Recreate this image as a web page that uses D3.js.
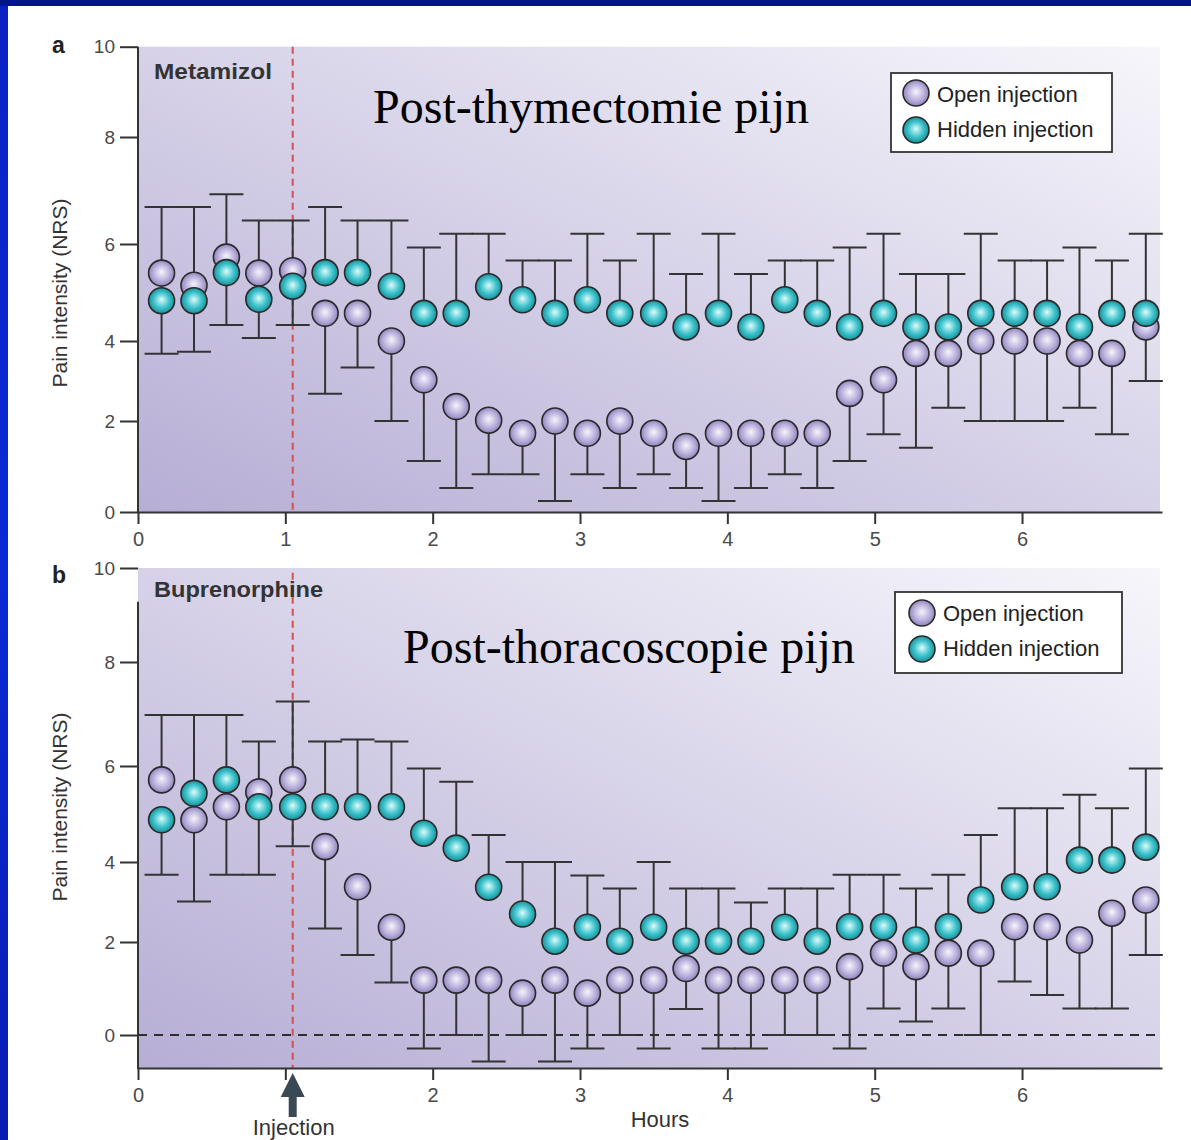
<!DOCTYPE html>
<html>
<head>
<meta charset="utf-8">
<script src="https://cdn.jsdelivr.net/npm/d3@7"></script>
<style>
    html, body { margin: 0; padding: 0; background: #fff; }
    svg { display: block; }
    .axis .tick text { font-family: "Liberation Sans", Arial, sans-serif; fill: #4a4a4a; }
    .axis path, .axis line { stroke: #333; stroke-width: 2; }
</style>
</head>
<body>
<div id="chart"></div>
<script>
// time of each measurement, hours
var hours = [0.16, 0.38, 0.60, 0.82, 1.05, 1.27, 1.49, 1.72, 1.94, 2.16, 2.38, 2.61, 2.83, 3.05, 3.27, 3.50,
    3.72, 3.94, 4.16, 4.39, 4.61, 4.83, 5.06, 5.28, 5.50, 5.72, 5.95, 6.17, 6.39, 6.61, 6.84];
var xTicks = [0, 1, 2, 3, 4, 5, 6];
var yTicks = [0, 2, 4, 6, 8, 10];
var injectionHour = 1.05;
var seriesNames = ['Open injection', 'Hidden injection'];

// a: Metamizol
var openA = [5.40, 5.15, 5.73, 5.40, 5.45, 4.57, 4.57, 4.00, 3.03, 2.36, 2.02, 1.73, 2.00, 1.73, 2.00, 1.73,
    1.44, 1.73, 1.73, 1.73, 1.73, 2.69, 3.03, 3.69, 3.69, 4.00, 4.00, 4.00, 3.69, 3.69, 4.29];
var openCapA = [6.69, 6.69, 6.93, 6.44, 6.44, 2.68, 3.34, 2.00, 1.12, 0.53, 0.83, 0.83, 0.24, 0.83, 0.53, 0.83,
    0.53, 0.24, 0.53, 0.83, 0.53, 1.12, 1.71, 1.41, 2.33, 2.00, 2.00, 2.00, 2.33, 1.71, 3.00];
var hiddenA = [4.83, 4.83, 5.41, 4.86, 5.13, 5.41, 5.41, 5.13, 4.57, 4.57, 5.12, 4.85, 4.57, 4.85, 4.57, 4.57,
    4.29, 4.57, 4.29, 4.85, 4.57, 4.29, 4.57, 4.29, 4.29, 4.57, 4.57, 4.57, 4.29, 4.57, 4.57];
var hiddenCapA = [3.68, 3.73, 4.33, 4.06, 4.33, 6.69, 6.44, 6.44, 5.93, 6.19, 6.19, 5.66, 5.66, 6.19, 5.66, 6.19,
    5.38, 6.19, 5.38, 5.66, 5.66, 5.93, 6.19, 5.38, 5.38, 6.19, 5.66, 5.66, 5.93, 5.66, 6.19];

// b: Buprenorphine
var openB = [5.71, 4.88, 5.15, 5.46, 5.71, 4.32, 3.38, 2.37, 1.18, 1.18, 1.18, 0.90, 1.18, 0.90, 1.18, 1.18,
    1.43, 1.18, 1.18, 1.18, 1.18, 1.47, 1.76, 1.47, 1.76, 1.76, 2.38, 2.38, 2.05, 2.72, 3.05];
var openCapB = [6.98, 3.01, 3.68, 6.47, 7.24, 2.34, 1.72, 1.13, -0.29, 0.00, -0.57, 0.00, -0.57, -0.29, 0.00, -0.29,
    0.56, -0.29, -0.29, 0.00, 0.00, -0.29, 0.57, 0.29, 0.57, 0.00, 1.15, 0.86, 0.57, 0.57, 1.72];
var hiddenB = [4.88, 5.43, 5.71, 5.15, 5.15, 5.15, 5.15, 5.15, 4.60, 4.29, 3.37, 2.70, 2.02, 2.37, 2.02, 2.37,
    2.02, 2.02, 2.02, 2.37, 2.02, 2.38, 2.38, 2.05, 2.38, 3.05, 3.38, 3.38, 4.04, 4.04, 4.31];
var hiddenCapB = [3.68, 6.98, 6.98, 3.68, 4.33, 6.47, 6.51, 6.47, 5.95, 5.67, 4.56, 4.00, 4.00, 3.66, 3.34, 4.00,
    3.34, 3.34, 2.99, 3.34, 3.34, 3.68, 3.68, 3.34, 3.68, 4.56, 5.12, 5.12, 5.40, 5.12, 5.95];


function main(domSelector) {

    var width = 1191;
    var height = 1140;
    var font = '"Liberation Sans", Arial, sans-serif';

    var svg = d3.select(domSelector).append('svg')
        .attr('width', width)
        .attr('height', height);

    var defs = svg.append('defs');

    // plot background: purple in the lower left fading to white top right
    var bg = defs.append('linearGradient').attr('id', 'bg')
        .attr('x1', 0).attr('y1', 1).attr('x2', 1).attr('y2', 0);
    bg.append('stop').attr('offset', 0).attr('stop-color', '#b6aed5');
    bg.append('stop').attr('offset', 0.45).attr('stop-color', '#d3cee6');
    bg.append('stop').attr('offset', 1).attr('stop-color', '#f7f6fb');

    function sphere(id, c0, c1, c2) {
        var g = defs.append('radialGradient').attr('id', id)
            .attr('cx', '50%').attr('cy', '50%').attr('r', '55%')
            .attr('fx', '50%').attr('fy', '45%');
        g.append('stop').attr('offset', 0).attr('stop-color', c0);
        g.append('stop').attr('offset', 0.55).attr('stop-color', c1);
        g.append('stop').attr('offset', 1).attr('stop-color', c2);
    }
    sphere('gOpen', '#f6f4fb', '#bdb3dd', '#857ab6');
    sphere('gHidden', '#dcfbfb', '#3cc2cb', '#15838f');
    var fills = ['url(#gOpen)', 'url(#gHidden)'];

    var leftBand = defs.append('linearGradient').attr('id', 'leftBand')
        .attr('x1', 0).attr('y1', 0).attr('x2', 0).attr('y2', 1);
    leftBand.append('stop').attr('offset', 0).attr('stop-color', '#0a22c4');
    leftBand.append('stop').attr('offset', 0.5).attr('stop-color', '#0a2ad6');
    leftBand.append('stop').attr('offset', 1).attr('stop-color', '#081cb2');

    // slide frame
    svg.append('rect').attr('x', 0).attr('y', 0).attr('width', 8).attr('height', height)
        .attr('fill', 'url(#leftBand)');
    svg.append('rect').attr('x', 0).attr('y', 0).attr('width', width).attr('height', 6)
        .attr('fill', '#00168a');

    var xScale = d3.scaleLinear().domain([0, 6.95]).range([138, 1162]);

    var panels = [
        {
            letter: 'a', drug: 'Metamizol', drugW: 118, title: 'Post-thymectomie pijn',
            yRange: [512, 421, 341, 244, 137, 46.7], xAxisAt: 0, yAxisTop: 10, redTop: 10,
            letterY: 53, drugY: 79, titleX: 373, titleY: 123,
            legend: {x: 891, y: 73, w: 221, h: 79, cx: 916, cy: [93, 130], tx: 937, ty: [102, 137]},
            labelY: 293,
            series: [[openA, openCapA], [hiddenA, hiddenCapA]],
            zeroLine: false, arrow: false
        },
        {
            letter: 'b', drug: 'Buprenorphine', drugW: 169, title: 'Post-thoracoscopie pijn',
            yRange: [1035, 942, 862, 766, 662, 568], xAxisAt: -0.71, yAxisTop: 9.28, redTop: 9.9,
            letterY: 583, drugY: 597, titleX: 403, titleY: 663,
            legend: {x: 895, y: 592, w: 227, h: 81, cx: 922, cy: [613, 649], tx: 943, ty: [621, 656]},
            labelY: 807,
            series: [[openB, openCapB], [hiddenB, hiddenCapB]],
            zeroLine: true, arrow: true
        }
    ];

    panels.forEach(function (p) {
        var yScale = d3.scaleLinear().domain(yTicks).range(p.yRange);
        var g = svg.append('g');
        var x0 = xScale(0), x1 = xScale(6.95);
        var yBottom = yScale(p.xAxisAt);

        g.append('rect')
            .attr('x', x0).attr('y', yScale(10))
            .attr('width', x1 - x0 - 2).attr('height', yBottom - yScale(10))
            .attr('fill', 'url(#bg)');

        // injection time
        g.append('line')
            .attr('x1', xScale(injectionHour)).attr('x2', xScale(injectionHour))
            .attr('y1', yScale(p.redTop)).attr('y2', yBottom)
            .attr('stroke', '#d2504f').attr('stroke-width', 2)
            .attr('stroke-dasharray', '7,5');

        if (p.zeroLine) {
            g.append('line')
                .attr('x1', x0).attr('x2', x1 - 2)
                .attr('y1', yScale(0)).attr('y2', yScale(0))
                .attr('stroke', '#2e2e2e').attr('stroke-width', 2)
                .attr('stroke-dasharray', '9,7');
        }

        // y axis
        var yAxis = g.append('g').attr('class', 'axis')
            .attr('transform', 'translate(' + x0 + ',0)')
            .call(d3.axisLeft(yScale).tickValues(yTicks).tickSize(18).tickPadding(5));
        yAxis.select('.domain').remove();
        yAxis.selectAll('.tick text').style('font-size', '19px');
        g.append('line')
            .attr('x1', x0).attr('x2', x0)
            .attr('y1', yScale(p.yAxisTop)).attr('y2', yBottom + 1)
            .attr('stroke', '#333').attr('stroke-width', 2);

        // x axis (in b the arrow takes the place of the "1")
        var xAxis = g.append('g').attr('class', 'axis')
            .attr('transform', 'translate(0,' + yBottom + ')')
            .call(d3.axisBottom(xScale).tickValues(xTicks).tickSize(12).tickPadding(8).tickSizeOuter(0)
                .tickFormat(function (d) { return (p.arrow && d === 1) ? '' : d3.format('d')(d); }));
        xAxis.selectAll('.tick text').style('font-size', '20px');

        // error bars
        p.series.forEach(function (s) {
            var bars = g.append('g').selectAll('g')
                .data(hours.map(function (h, i) { return [h, s[0][i], s[1][i]]; }))
                .enter().append('g');
            bars.append('line')
                .attr('x1', function (d) { return xScale(d[0]); })
                .attr('x2', function (d) { return xScale(d[0]); })
                .attr('y1', function (d) { return yScale(d[1]); })
                .attr('y2', function (d) { return yScale(d[2]); })
                .attr('stroke', '#333').attr('stroke-width', 2);
            bars.append('line')
                .attr('x1', function (d) { return xScale(d[0]) - 17; })
                .attr('x2', function (d) { return xScale(d[0]) + 17; })
                .attr('y1', function (d) { return yScale(d[2]); })
                .attr('y2', function (d) { return yScale(d[2]); })
                .attr('stroke', '#333').attr('stroke-width', 2);
        });

        // means: open first, hidden on top
        p.series.forEach(function (s, k) {
            g.append('g').selectAll('circle')
                .data(s[0])
                .enter().append('circle')
                .attr('cx', function (d, i) { return xScale(hours[i]); })
                .attr('cy', function (d) { return yScale(d); })
                .attr('r', 13)
                .attr('fill', fills[k])
                .attr('stroke', '#2a2a2a').attr('stroke-width', 1.6);
        });

        // labels
        g.append('text').attr('x', 52).attr('y', p.letterY).text(p.letter)
            .style('font-family', font).style('font-weight', 'bold').style('font-size', '23px').attr('fill', '#222');
        g.append('text').attr('x', 154).attr('y', p.drugY).text(p.drug)
            .attr('textLength', p.drugW).attr('lengthAdjust', 'spacingAndGlyphs')
            .style('font-family', font).style('font-weight', 'bold').style('font-size', '22px').attr('fill', '#333');
        g.append('text').attr('x', p.titleX).attr('y', p.titleY).text(p.title)
            .style('font-family', '"Liberation Serif", "Times New Roman", serif').style('font-size', '48px')
            .attr('fill', '#000');
        g.append('text')
            .attr('transform', 'translate(67,' + p.labelY + ') rotate(-90)')
            .attr('text-anchor', 'middle')
            .text('Pain intensity (NRS)')
            .style('font-family', font).style('font-size', '21px').attr('fill', '#333');

        // legend
        var L = p.legend;
        g.append('rect').attr('x', L.x).attr('y', L.y).attr('width', L.w).attr('height', L.h)
            .attr('fill', '#fff').attr('stroke', '#333').attr('stroke-width', 1.8);
        seriesNames.forEach(function (name, k) {
            g.append('circle').attr('cx', L.cx).attr('cy', L.cy[k]).attr('r', 13)
                .attr('fill', fills[k]).attr('stroke', '#2a2a2a').attr('stroke-width', 1.6);
            g.append('text').attr('x', L.tx).attr('y', L.ty[k]).text(name)
                .style('font-family', font).style('font-size', '22px').attr('fill', '#222');
        });

        if (p.arrow) {
            var ax = xScale(injectionHour);
            var ay = yBottom + 5;
            g.append('path')
                .attr('d', 'M' + ax + ',' + ay + ' l12,24 l-8,0 l0,20 l-8,0 l0,-20 l-8,0 z')
                .attr('fill', '#3b4955');
            g.append('text').attr('x', ax + 1).attr('y', 1135).attr('text-anchor', 'middle')
                .text('Injection')
                .style('font-family', font).style('font-size', '22px').attr('fill', '#333');
            g.append('text').attr('x', 660).attr('y', 1127).attr('text-anchor', 'middle')
                .text('Hours')
                .style('font-family', font).style('font-size', '22px').attr('fill', '#333');
        }
    });
}

main('#chart');
</script>
</body>
</html>
